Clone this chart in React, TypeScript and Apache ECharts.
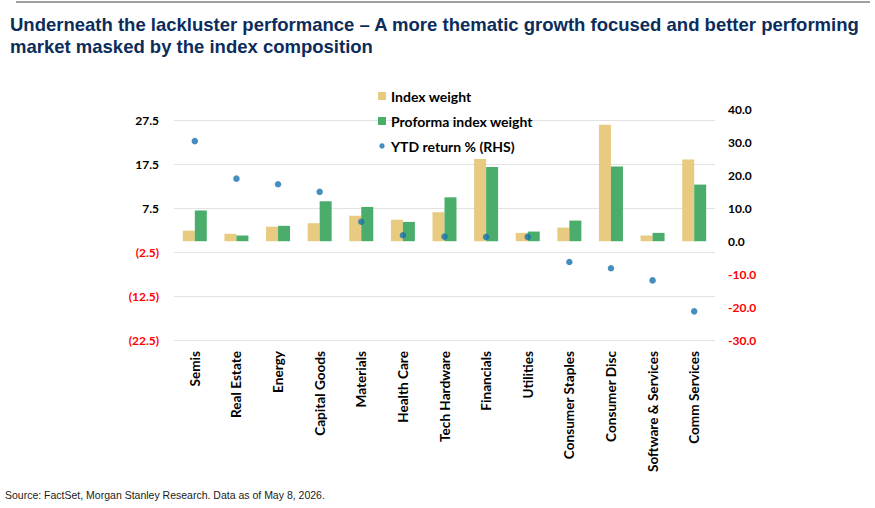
import React, { useEffect, useRef } from "react";
import * as echarts from "echarts";

const categories = [
  "Semis",
  "Real Estate",
  "Energy",
  "Capital Goods",
  "Materials",
  "Health Care",
  "Tech Hardware",
  "Financials",
  "Utilities",
  "Consumer Staples",
  "Consumer Disc",
  "Software & Services",
  "Comm Services",
];

const indexWeight = [2.4, 1.7, 3.3, 4.1, 5.8, 4.9, 6.6, 18.7, 1.9, 3.1, 26.5, 1.3, 18.6];
const proformaWeight = [7.0, 1.3, 3.5, 9.1, 7.8, 4.4, 10.0, 16.9, 2.2, 4.7, 17.0, 1.9, 12.9];
const ytdReturn = [30.4, 19.0, 17.3, 15.0, 5.9, 1.8, 1.4, 1.3, 1.3, -6.3, -8.2, -11.9, -21.3];

// left-axis labelled ticks: -22.5 … 27.5 every 10
const leftMin = -22.5;
const leftMax = 30;
const rightMin = -30;
const rightMax = 40;

const TITLE =
  "Underneath the lackluster performance \u2013 A more thematic growth focused and better performing\nmarket masked by the index composition";
const SOURCE = "Source: FactSet, Morgan Stanley Research. Data as of May 8, 2026.";

const LABEL_FONT = "Lato, 'Open Sans', sans-serif";

export default function App() {
  const ref = useRef<HTMLDivElement>(null);

  useEffect(() => {
    if (!ref.current) return;
    const chart = echarts.init(ref.current, null, { renderer: "svg" });

    const fmtLeft = (v: number) => {
      const steps = Math.round((v - leftMin) / 2.5);
      if (steps % 4 !== 0 || v > 27.5 + 1e-9) return "";
      if (v < 0) return "{neg|(" + Math.abs(v).toFixed(1) + ")}";
      return v.toFixed(1);
    };
    const fmtRight = (v: number) => {
      if (v < 0) return "{neg|" + v.toFixed(1) + "}";
      return v.toFixed(1);
    };

    const gridColor = "#E3E3E3";
    const splitColors = [gridColor, "rgba(0,0,0,0)", "rgba(0,0,0,0)", "rgba(0,0,0,0)"];

    chart.setOption({
      animation: false,
      backgroundColor: "#ffffff",
      graphic: [
        {
          type: "line",
          shape: { x1: 16, y1: 2, x2: 870, y2: 2 },
          style: { stroke: "#A0A0A0", lineWidth: 2 },
        },
        {
          type: "text",
          left: 10,
          top: 13,
          style: {
            text: TITLE,
            fill: "#0C2D5C",
            font: "bold 18.5px 'Liberation Sans', Arial, sans-serif",
            lineHeight: 22,
          },
        },
        {
          type: "text",
          left: 5,
          top: 489,
          style: {
            text: SOURCE,
            fill: "#1A1A1A",
            font: "10.5px 'Liberation Sans', Arial, sans-serif",
          },
        },
      ],
      legend: {
        orient: "vertical",
        left: 373,
        top: 84,
        itemWidth: 8,
        itemHeight: 8,
        itemGap: 11,
        textStyle: { fontFamily: LABEL_FONT, fontWeight: "bold", fontSize: 14, color: "#000" },
        data: [
          { name: "Index weight", icon: "rect" },
          { name: "Proforma index weight", icon: "rect" },
          {
            name: "YTD return % (RHS)",
            icon: "path://M0,0L0.01,0L0.01,0.01Z M8,8L8.01,8L8.01,8.01Z M4,1.3A2.7,2.7 0 1 1 3.99,1.3Z",
          },
        ],
      },
      grid: { left: 174, right: 160, top: 109.5, bottom: 168, containLabel: false },
      xAxis: {
        type: "category",
        data: categories,
        axisLine: { show: false },
        axisTick: { show: false },
        axisLabel: {
          interval: 0,
          rotate: 90,
          margin: 11,
          fontFamily: LABEL_FONT,
          fontWeight: "bold",
          fontSize: 13.6,
          color: "#000",
        },
      },
      yAxis: [
        {
          type: "value",
          min: leftMin,
          max: leftMax,
          interval: 2.5,
          axisLine: { show: false },
          axisTick: { show: false },
          splitLine: { show: true, lineStyle: { color: splitColors, width: 1 } },
          axisLabel: {
            margin: 15,
            formatter: fmtLeft,
            fontFamily: LABEL_FONT,
            fontWeight: "bold",
            fontSize: 12,
            color: "#000",
            rich: { neg: { color: "#FF0000", fontFamily: LABEL_FONT, fontWeight: "bold", fontSize: 12 } },
          },
        },
        {
          type: "value",
          min: rightMin,
          max: rightMax,
          interval: 10,
          position: "right",
          axisLine: { show: false },
          axisTick: { show: false },
          splitLine: { show: false },
          axisLabel: {
            margin: 13,
            formatter: fmtRight,
            fontFamily: LABEL_FONT,
            fontWeight: "bold",
            fontSize: 12,
            color: "#000",
            rich: { neg: { color: "#FF0000", fontFamily: LABEL_FONT, fontWeight: "bold", fontSize: 12 } },
          },
        },
      ],
      series: [
        {
          name: "Index weight",
          type: "bar",
          data: indexWeight,
          barWidth: 12,
          barGap: "0%",
          itemStyle: { color: "#E8CA80" },
        },
        {
          name: "Proforma index weight",
          type: "bar",
          data: proformaWeight,
          barWidth: 12,
          barGap: "0%",
          itemStyle: { color: "#4AAD6B" },
        },
        {
          name: "YTD return % (RHS)",
          type: "scatter",
          yAxisIndex: 1,
          data: ytdReturn,
          symbol: "circle",
          symbolSize: 6.5,
          itemStyle: { color: "#1672AE" },
          z: 5,
        },
      ],
    });

    return () => chart.dispose();
  }, []);

  return (
    <div
      ref={ref}
      style={{ position: "absolute", left: 0, top: 0, width: 875, height: 508 }}
    />
  );
}
